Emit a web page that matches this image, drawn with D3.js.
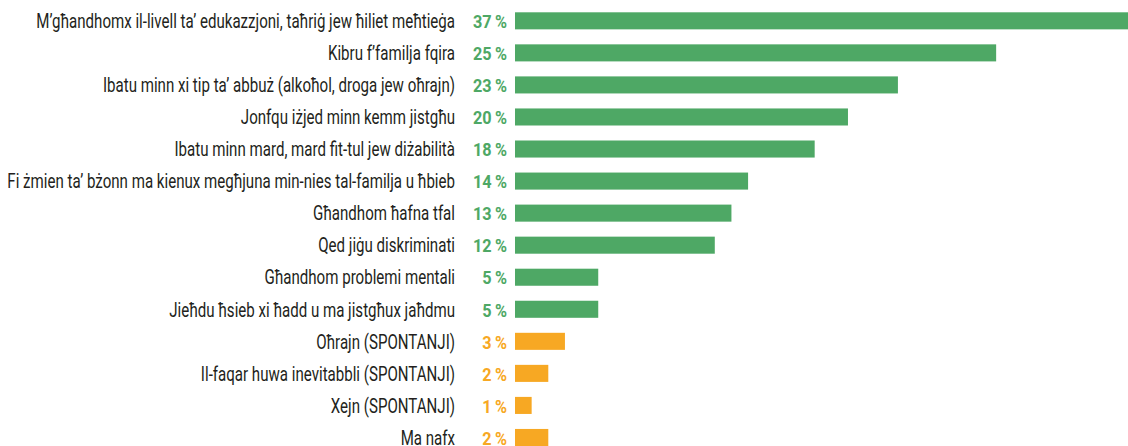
<!DOCTYPE html>
<html>
<head>
<meta charset="utf-8">
<script src="https://cdn.jsdelivr.net/npm/d3@7"></script>
<style>
  body { margin: 0; background: #fff; }
  svg { display: block; }
</style>
</head>
<body>
<svg id="drawing_region"></svg>
<script>
// categories, top to bottom
const categories = [
    "M\u2019għandhomx il-livell ta\u2019 edukazzjoni, taħriġ jew ħiliet meħtieġa",
    "Kibru f\u2019familja fqira",
    "Ibatu minn xi tip ta\u2019 abbuż (alkoħol, droga jew oħrajn)",
    "Jonfqu iżjed minn kemm jistgħu",
    "Ibatu minn mard, mard fit-tul jew diżabilità",
    "Fi żmien ta\u2019 bżonn ma kienux megħjuna min-nies tal-familja u ħbieb",
    "Għandhom ħafna tfal",
    "Qed jiġu diskriminati",
    "Għandhom problemi mentali",
    "Jieħdu ħsieb xi ħadd u ma jistgħux jaħdmu",
    "Oħrajn (SPONTANJI)",
    "Il-faqar huwa inevitabbli (SPONTANJI)",
    "Xejn (SPONTANJI)",
    "Ma nafx"
];
// printed percentages
const pctLabels = [37, 25, 23, 20, 18, 14, 13, 12, 5, 5, 3, 2, 1, 2];
// bar lengths as drawn in the picture (the 25 % bar is drawn longer)
const barValues = [37, 28.9, 23, 20, 18, 14, 13, 12, 5, 5, 3, 2, 1, 2];
// group: main answers vs spontaneous / don't know
const groups = ["main", "main", "main", "main", "main", "main", "main", "main", "main", "main",
                "other", "other", "other", "other"];

const W = 1128, H = 446;
const colors = { main: "#4ea865", other: "#f7a823" };
const font = "Roboto, 'Noto Sans', sans-serif";

const svg = d3.select("#drawing_region")
    .attr("width", W)
    .attr("height", H);

const xscale = d3.scaleLinear()
    .domain([0, 37])
    .range([515, 1131]);

const yscale = d3.scaleBand()
    .domain(d3.range(categories.length))
    .range([4.8, 4.8 + 14 * 32.05])
    .paddingInner(0.468)
    .paddingOuter(0.234);

const rows = svg.selectAll("g.row")
    .data(categories)
    .join("g")
    .attr("class", "row");

rows.append("rect")
    .attr("x", xscale(0))
    .attr("y", (d, i) => yscale(i))
    .attr("width", (d, i) => xscale(barValues[i]) - xscale(0))
    .attr("height", yscale.bandwidth())
    .attr("fill", (d, i) => colors[groups[i]]);

const labels = rows.append("text")
    .attr("text-anchor", "end")
    .attr("font-family", font)
    .attr("font-size", 20)
    .attr("fill", "#231f20")
    .text(d => d);

const pcts = rows.append("text")
    .attr("text-anchor", "end")
    .attr("font-family", font)
    .attr("font-weight", "bold")
    .attr("font-size", 19)
    .attr("fill", (d, i) => colors[groups[i]])
    .text((d, i) => pctLabels[i] + "\u2009%");

// condensed look: squeeze horizontally so the longest label fits like the original
const k1 = 419 / labels.node().getComputedTextLength();
const k2 = 34 / pcts.node().getComputedTextLength();

labels.attr("transform", (d, i) =>
    `translate(455, ${yscale(i) + 15.8}) scale(${k1}, 1)`);
pcts.attr("transform", (d, i) =>
    `translate(507, ${yscale(i) + 15.8}) scale(${k2}, 1)`);
</script>
</body>
</html>
